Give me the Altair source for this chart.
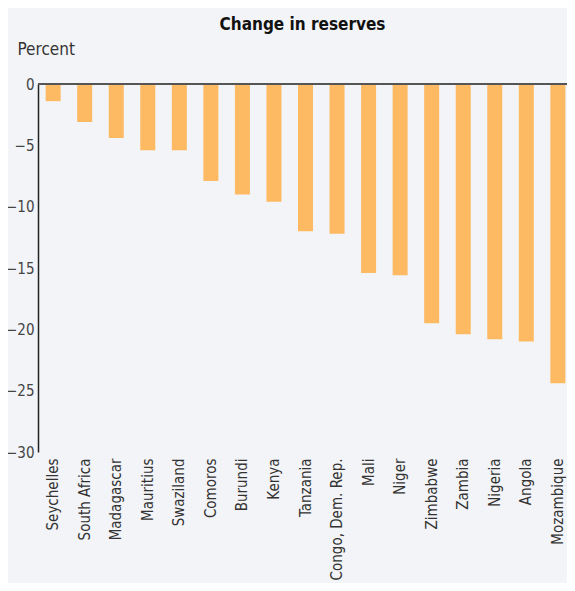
import altair as alt
import pandas as pd

countries = ["Seychelles", "South Africa", "Madagascar", "Mauritius", "Swaziland",
             "Comoros", "Burundi", "Kenya", "Tanzania", "Congo, Dem. Rep.", "Mali",
             "Niger", "Zimbabwe", "Zambia", "Nigeria", "Angola", "Mozambique"]
values = [-1.4, -3.1, -4.4, -5.4, -5.4, -7.9, -9.0, -9.6, -12.0, -12.2, -15.4,
          -15.6, -19.5, -20.4, -20.8, -21.0, -24.4]
y_ticks = [0, -5, -10, -15, -20, -25, -30]

df = pd.DataFrame({"country": countries, "value": values})

FONT = "Liberation Sans Narrow, DejaVu Sans Condensed, sans-serif"

base = alt.Chart(df)

bars = base.mark_bar(color="#FDBA62", size=15).encode(
    x=alt.X("country:N", sort=None,
            scale=alt.Scale(paddingInner=0.52, paddingOuter=0.24, range=[0, 535]),
            axis=alt.Axis(title=None, domain=False, ticks=False, labelAngle=-90,
                          labelAlign="right", labelBaseline="middle",
                          labelFont=FONT, labelFontSize=15, labelColor="#333333",
                          labelPadding=6, labelOverlap=False, labelLimit=200)),
    y=alt.Y("value:Q", scale=alt.Scale(domain=[-30, 0], nice=False),
            axis=alt.Axis(values=y_ticks, title="Percent", titleAngle=0,
                          titleX=-21, titleY=-30, titleAlign="left",
                          titleBaseline="alphabetic", titleFont=FONT,
                          titleFontSize=17, titleFontWeight="normal",
                          titleColor="#333333", domain=True, domainColor="#222222",
                          domainWidth=1.5, ticks=False, grid=False,
                          labelFont=FONT, labelFontSize=15, labelColor="#444444",
                          labelPadding=4)),
)

zero = base.mark_rule(color="#555555", strokeWidth=2).encode(
    y=alt.datum(0)
)

chart = (bars + zero).properties(
    width=529, height=368,
    autosize=alt.AutoSizeParams(type="none"),
    padding={"left": 30, "top": 76, "right": 0, "bottom": 131},
    background="#f3f4f7",
    title=alt.Title("Change in reserves", anchor="middle", offset=6,
                    font=FONT, fontSize=17, fontWeight="bold", color="#111111"),
).configure_view(stroke=None)

chart.save("out.html", embed_options={"renderer": "svg", "actions": False})
